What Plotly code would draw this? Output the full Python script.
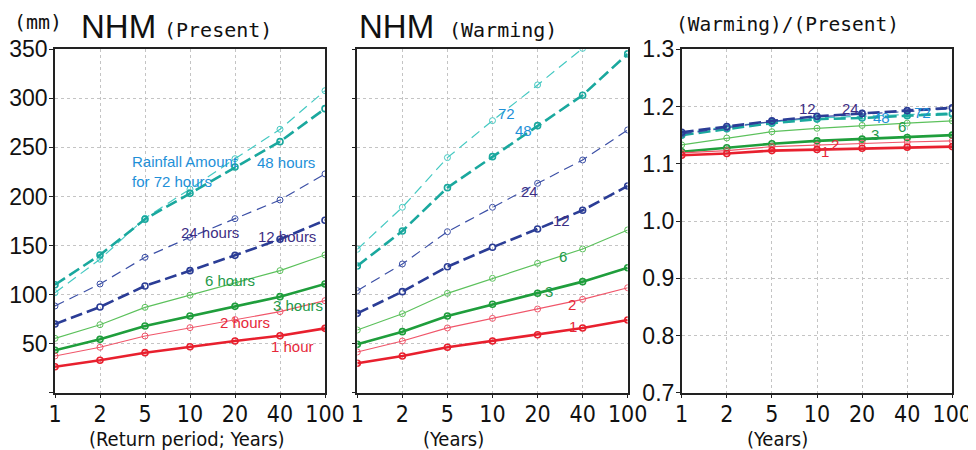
import plotly.graph_objects as go

# ---------------- data ----------------
return_periods = ["1", "2", "5", "10", "20", "40", "100"]
durations = ["1h", "2h", "3h", "6h", "12h", "24h", "48h", "72h"]

present_1h = [26.5, 33.0, 40.8, 46.9, 52.7, 58.0, 65.6]
present_2h = [37.4, 46.3, 57.8, 66.3, 74.5, 82.6, 93.8]
present_3h = [43.2, 54.4, 68.0, 78.2, 88.0, 97.9, 110.8]
present_6h = [55.4, 69.3, 87.0, 99.3, 112.0, 124.4, 140.4]
present_12h = [70.0, 87.4, 108.8, 124.4, 140.0, 156.4, 175.7]
present_24h = [88.4, 110.8, 138.0, 158.4, 177.4, 196.4, 223.0]
present_48h = [110.0, 140.4, 176.8, 203.2, 230.0, 255.9, 289.5]
present_72h = [101.9, 136.0, 177.8, 207.5, 238.5, 268.5, 307.8]

warming_1h = [30.0, 37.4, 46.3, 52.7, 59.1, 66.0, 74.1]
warming_2h = [41.5, 52.7, 66.0, 75.8, 85.3, 95.2, 107.0]
warming_3h = [49.3, 62.2, 78.2, 90.1, 101.3, 113.2, 127.4]
warming_6h = [63.9, 80.5, 101.3, 116.6, 131.9, 146.5, 165.9]
warming_12h = [80.9, 103.0, 128.4, 148.2, 166.9, 185.9, 210.7]
warming_24h = [104.0, 131.2, 164.1, 189.0, 213.4, 237.2, 267.8]
warming_48h = [129.2, 164.8, 209.0, 240.6, 272.2, 303.2, 345.3]
warming_72h = [146.2, 189.0, 239.6, 277.3, 313.7, 351.0, 392.0]

ratio_1h = [1.115, 1.118, 1.123, 1.125, 1.127, 1.129, 1.130]
ratio_2h = [1.119, 1.123, 1.130, 1.133, 1.136, 1.138, 1.140]
ratio_3h = [1.121, 1.128, 1.135, 1.140, 1.143, 1.146, 1.150]
ratio_6h = [1.133, 1.145, 1.156, 1.162, 1.167, 1.171, 1.175]
ratio_12h = [1.155, 1.165, 1.175, 1.183, 1.188, 1.193, 1.198]
ratio_24h = [1.152, 1.163, 1.174, 1.182, 1.187, 1.192, 1.196]
ratio_48h = [1.150, 1.161, 1.171, 1.178, 1.180, 1.184, 1.187]
ratio_72h = [1.153, 1.165, 1.173, 1.180, 1.183, 1.186, 1.189]

present = dict(zip(durations, [present_1h, present_2h, present_3h, present_6h,
                               present_12h, present_24h, present_48h, present_72h]))
warming = dict(zip(durations, [warming_1h, warming_2h, warming_3h, warming_6h,
                               warming_12h, warming_24h, warming_48h, warming_72h]))
ratio = dict(zip(durations, [ratio_1h, ratio_2h, ratio_3h, ratio_6h,
                             ratio_12h, ratio_24h, ratio_48h, ratio_72h]))

present_ticks = [0, 50, 100, 150, 200, 250, 300, 350]
present_ticktext = ["", "50", "100", "150", "200", "250", "300", "350"]
ratio_ticks = [0.7, 0.8, 0.9, 1.0, 1.1, 1.2, 1.3]
ratio_ticktext = ["0.7", "0.8", "0.9", "1.0", "1.1", "1.2", "1.3"]

# ---------------- styles ----------------
style = {
    "1h": dict(color="#e8202e", width=2.6, dash="solid", mw=1.6),
    "2h": dict(color="#f0566a", width=1.2, dash="solid", mw=1.0),
    "3h": dict(color="#1f9e3c", width=2.6, dash="solid", mw=1.6),
    "6h": dict(color="#5cc15c", width=1.2, dash="solid", mw=1.0),
    "12h": dict(color="#2b3d96", width=2.6, dash="12px,5px", mw=1.6),
    "24h": dict(color="#3c50a6", width=1.2, dash="10px,6px", mw=1.0),
    "48h": dict(color="#1aa89e", width=2.6, dash="12px,5px", mw=1.6),
    "72h": dict(color="#45c9c2", width=1.2, dash="10px,6px", mw=1.0),
}
C_BLUE = "#1e90d8"
C_NAVY = "#3c2e84"
C_GREEN = "#1f9a4a"
C_RED = "#e6283a"

# page body has an 8px margin; work in page pixels and convert
OFF = 8
W, H = 968, 442


def X(px):
    return (px - OFF) / W


def Y(py):
    return 1 - (py - OFF) / H


fig = go.Figure()
panels = [("x", "y", present), ("x2", "y2", warming), ("x3", "y3", ratio)]
for xa, ya, data in panels:
    for d in ["72h", "48h", "24h", "12h", "6h", "3h", "2h", "1h"]:
        s = style[d]
        fig.add_trace(go.Scatter(
            x=return_periods, y=data[d], xaxis=xa, yaxis=ya, mode="lines+markers",
            line=dict(color=s["color"], width=s["width"], dash=s["dash"]),
            marker=dict(symbol="circle-open", size=6, color=s["color"],
                        line=dict(width=s["mw"], color=s["color"])),
            showlegend=False, hoverinfo="skip"))

ydom = [Y(392.7), Y(49.3)]
xdoms = [[X(55), X(325)], [X(357.3), X(627.7)], [X(681.7), X(952.3)]]

TICKFONT_X = dict(family="Liberation Sans Narrow, DejaVu Sans Condensed, Arial Narrow, sans-serif",
                  size=23, color="#111")
TICKFONT_Y = dict(family="Liberation Sans, Arial, sans-serif", size=23, color="#111")

common_x = dict(type="category", range=[0, 6], ticks="outside", ticklen=4, tickcolor="#222",
                showgrid=True, gridcolor="#c4c4c4", griddash="dot", gridwidth=1,
                showline=True, mirror=True, linecolor="#222", linewidth=1.5,
                tickfont=TICKFONT_X, zeroline=False, fixedrange=True, automargin=False,
                ticklabelstandoff=-4)
common_y = dict(ticks="outside", ticklen=4, tickcolor="#222",
                showgrid=True, gridcolor="#c4c4c4", griddash="dot", gridwidth=1,
                showline=True, mirror=True, linecolor="#222", linewidth=1.5,
                tickfont=TICKFONT_Y, zeroline=False, fixedrange=True, automargin=False,
                ticklabelstandoff=-3)

layout = dict(
    width=W, height=H, margin=dict(l=0, r=0, t=0, b=0, pad=0),
    paper_bgcolor="white", plot_bgcolor="white",
    xaxis=dict(domain=xdoms[0], anchor="y", **common_x),
    xaxis2=dict(domain=xdoms[1], anchor="y2", **common_x),
    xaxis3=dict(domain=xdoms[2], anchor="y3", **common_x),
    yaxis=dict(domain=ydom, anchor="x", range=[0, 350], tickvals=present_ticks,
               ticktext=present_ticktext, **common_y),
    yaxis2=dict(domain=ydom, anchor="x2", range=[0, 350], tickvals=present_ticks,
                showticklabels=False, **common_y),
    yaxis3=dict(domain=ydom, anchor="x3", range=[0.7, 1.3], tickvals=ratio_ticks,
                ticktext=ratio_ticktext, **common_y),
)
fig.update_layout(**layout)

LBL = "Liberation Sans, Arial, sans-serif"
MONO = "DejaVu Sans Mono, Liberation Mono, monospace"
NARROW = "Liberation Sans Narrow, DejaVu Sans Condensed, Arial Narrow, sans-serif"

annotations = []

# in-panel labels: (text, x index, y value, color, xref, yref, xanchor)
labels = [
    ("Rainfall Amount<br>for 72 hours", 1.667, 225, C_BLUE, "x", "y", "left"),
    ("48 hours", 5.13, 235, C_BLUE, "x", "y", "center"),
    ("24 hours", 3.44, 163, C_NAVY, "x", "y", "center"),
    ("12 hours", 5.16, 159, C_NAVY, "x", "y", "center"),
    ("6 hours", 3.89, 114, C_GREEN, "x", "y", "center"),
    ("3 hours", 5.4, 88.4, C_GREEN, "x", "y", "center"),
    ("2 hours", 4.22, 71.3, C_RED, "x", "y", "center"),
    ("1 hour", 5.27, 47.6, C_RED, "x", "y", "center"),
    ("72", 3.3, 285, C_BLUE, "x2", "y2", "center"),
    ("48", 3.68, 267, C_BLUE, "x2", "y2", "center"),
    ("24", 3.81, 205, C_NAVY, "x2", "y2", "center"),
    ("12", 4.52, 176, C_NAVY, "x2", "y2", "center"),
    ("6", 4.56, 139, C_GREEN, "x2", "y2", "center"),
    ("3", 4.26, 103, C_GREEN, "x2", "y2", "center"),
    ("2", 4.76, 90, C_RED, "x2", "y2", "center"),
    ("1", 4.79, 67, C_RED, "x2", "y2", "center"),
    ("12", 2.8, 1.196, C_NAVY, "x3", "y3", "center"),
    ("24", 3.75, 1.196, C_NAVY, "x3", "y3", "center"),
    ("48", 4.42, 1.181, C_BLUE, "x3", "y3", "center"),
    ("72", 5.33, 1.189, C_BLUE, "x3", "y3", "center"),
    ("6", 4.88, 1.165, C_GREEN, "x3", "y3", "center"),
    ("3", 4.29, 1.151, C_GREEN, "x3", "y3", "center"),
    ("2", 3.4, 1.1345, C_RED, "x3", "y3", "center"),
    ("1", 3.18, 1.1216, C_RED, "x3", "y3", "center"),
]
for text, xi, yv, col, xr, yr, xa in labels:
    annotations.append(dict(text=text, x=xi, y=yv, xref=xr, yref=yr, xanchor=xa,
                            yanchor="middle", showarrow=False, align="left",
                            font=dict(family=LBL, size=15, color=col)))

# titles
titles = [
    ("(mm)", 12, 22, MONO, 20, "left"),
    ("NHM", 79, 27, LBL, 33, "left"),
    ("(Present)", 162, 30, MONO, 20, "left"),
    ("NHM", 357, 27, LBL, 33, "left"),
    ("(Warming)", 447, 30, MONO, 20, "left"),
    ("(Warming)/(Present)", 674, 25, MONO, 19.5, "left"),
    ("(Return period; Years)", 187, 439, NARROW, 20, "center"),
    ("(Years)", 453, 439, NARROW, 20, "center"),
    ("(Years)", 777, 439, NARROW, 20, "center"),
]
for text, px, py, fam, size, xa in titles:
    annotations.append(dict(text=text, x=X(px), y=Y(py), xref="paper", yref="paper",
                            xanchor=xa, yanchor="middle", showarrow=False,
                            font=dict(family=fam, size=size, color="#111")))

fig.update_layout(annotations=annotations)
fig.write_html("out.html")
